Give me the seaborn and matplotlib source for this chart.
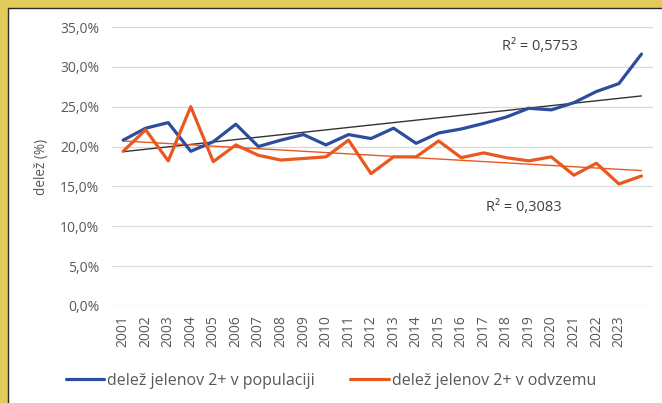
import numpy as np
import pandas as pd
import matplotlib.pyplot as plt
import seaborn as sns
from matplotlib.patches import Rectangle
from matplotlib.ticker import FuncFormatter

# podatki (odčitani s slike), v %
leta = list(range(2001, 2025))
oznake_let = [str(l) for l in range(2001, 2024)]
populacija = [20.8, 22.3, 23.0, 19.4, 20.6, 22.8, 20.0, 20.8, 21.5, 20.2, 21.5, 21.0,
              22.3, 20.4, 21.7, 22.2, 22.9, 23.7, 24.8, 24.6, 25.5, 26.9, 27.9, 31.6]
odvzem = [19.4, 22.1, 18.2, 25.0, 18.1, 20.2, 18.9, 18.3, 18.5, 18.7, 20.8, 16.6,
          18.7, 18.7, 20.7, 18.6, 19.2, 18.6, 18.2, 18.7, 16.4, 17.9, 15.3, 16.3]
r2_vrednosti = ["0,5753", "0,3083"]
ime_pop = "delež jelenov 2+ v populaciji"
ime_odv = "delež jelenov 2+ v odvzemu"

df = pd.DataFrame({"i": np.arange(len(leta)), "leto": leta,
                   "pop": populacija, "odv": odvzem})

sns.set_theme(style="whitegrid")
plt.rcParams['font.family'] = ['Open Sans', 'DejaVu Sans']

modra = "#2C4C9E"
oranzna = "#E8581F"
siva = "#595959"

fig = plt.figure(figsize=(6.62, 4.03), dpi=100, facecolor="#E2CA5B")
okvir = Rectangle((8 / 662, -0.05), 1.0, 1 - 8 / 403 + 0.05,
                  transform=fig.transFigure, facecolor="white",
                  edgecolor="#2a2a2a", linewidth=1.0, zorder=-10)
fig.patches.append(okvir)
ax = fig.add_axes([0.169, 0.241, 0.817, 0.692])
ax.set_facecolor("none")

# trendne črte
sns.regplot(data=df, x="i", y="pop", scatter=False, ci=None, ax=ax,
            line_kws=dict(color="#333333", lw=1.0, zorder=3))
sns.regplot(data=df, x="i", y="odv", scatter=False, ci=None, ax=ax,
            line_kws=dict(color=oranzna, lw=1.0, zorder=3))

sns.lineplot(data=df, x="i", y="pop", color=modra, lw=2.3, ax=ax, label=ime_pop, zorder=4)
sns.lineplot(data=df, x="i", y="odv", color=oranzna, lw=2.3, ax=ax, label=ime_odv, zorder=4)

ax.set_xlim(-0.5, len(leta) - 0.5)
ax.set_ylim(0, 35)
ax.set_yticks(np.arange(0, 36, 5))
ax.yaxis.set_major_formatter(FuncFormatter(lambda v, p: f"{v:.1f}%".replace(".", ",")))
ax.set_xticks(range(len(oznake_let)))
ax.set_xticklabels(oznake_let, rotation=90)
ax.tick_params(axis="y", labelsize=10, colors=siva, length=0, pad=9)
ax.tick_params(axis="x", labelsize=10, colors=siva, length=0, pad=7)
ax.grid(axis="y", color="#D9D9D9", lw=0.9)
ax.grid(axis="x", visible=False)
for s in ax.spines.values():
    s.set_visible(False)
ax.set_xlabel("")
ax.set_ylabel("delež (%)", fontsize=9.8, color=siva, labelpad=8)

ax.text(18.5, 32.5, f"R² = {r2_vrednosti[0]}", fontsize=10.5, color="#404040",
        ha="center", va="center")
ax.text(17.8, 12.4, f"R² = {r2_vrednosti[1]}", fontsize=10.5, color="#404040",
        ha="center", va="center")

h, l = ax.get_legend_handles_labels()
ax.legend_.remove()
fig.legend(h, l, loc="center", bbox_to_anchor=(0.5, 0.055), ncol=2, frameon=False,
           fontsize=11.5, handlelength=2.4, columnspacing=2.2, handletextpad=0.2,
           labelcolor=siva)

fig.savefig("out.png", dpi=100, facecolor=fig.get_facecolor())
